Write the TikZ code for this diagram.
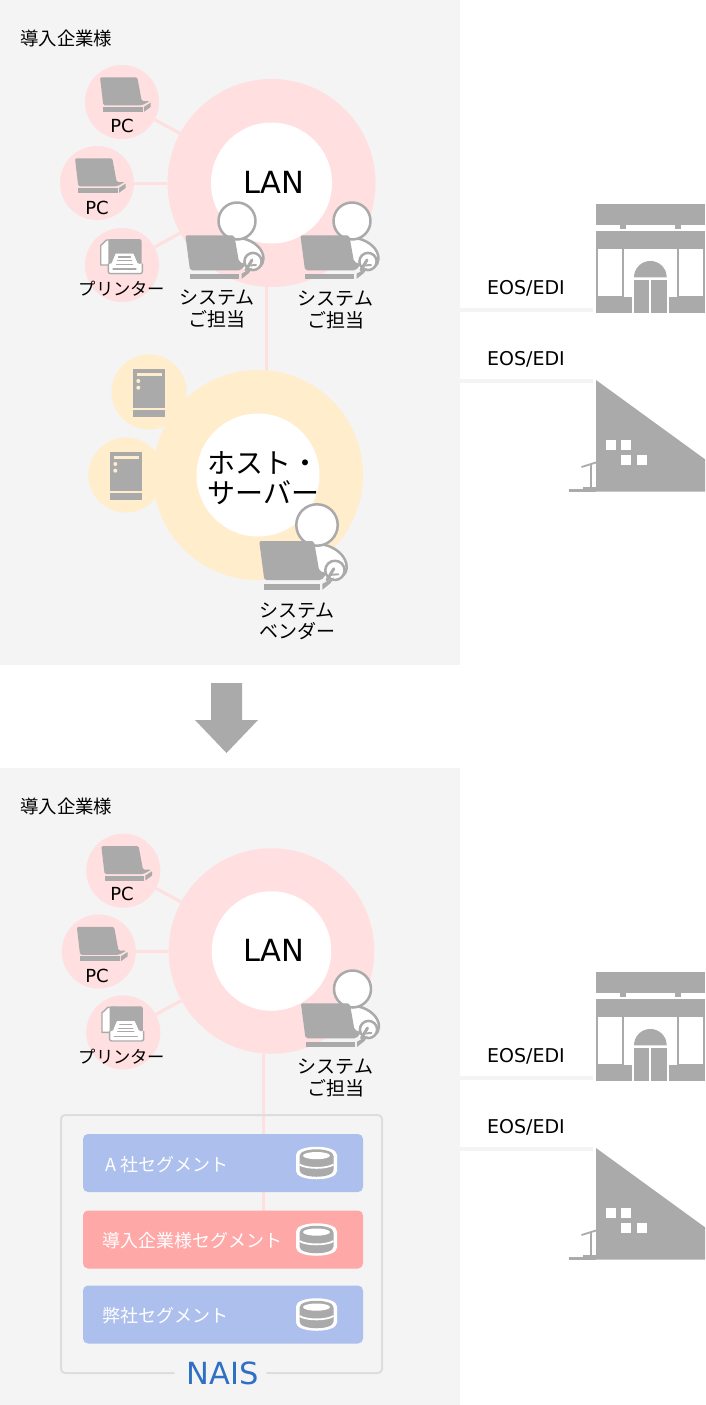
\documentclass[tikz,border=0pt]{standalone}
\usepackage{fontspec}
\setmainfont{DejaVu Sans}
\newfontfamily\jpfont{Noto Sans CJK JP}
\definecolor{panelgray}{HTML}{F4F4F4}
\definecolor{icongray}{HTML}{AAAAAA}
\definecolor{lanpink}{HTML}{FFDFDF}
\definecolor{hostcream}{HTML}{FFEDCC}
\definecolor{segblue}{HTML}{ADBFEC}
\definecolor{segred}{HTML}{FFA8A8}
\definecolor{framegray}{HTML}{DDDDDD}
\definecolor{naisblue}{HTML}{2F6FC4}
\tikzset{
	ring/.style={circle,inner sep=0pt,minimum size=#1},
	link/.style={line width=3pt,lanpink,line cap=butt},
	eosline/.style={line width=4pt,panelgray,line cap=butt},
	jp/.style={font=\jpfont\fontsize{18}{22}\selectfont,align=center,inner sep=0pt},
	jplabel/.style={font=\jpfont\fontsize{19}{21.5}\selectfont,align=center,inner sep=0pt},
	jpsmall/.style={font=\jpfont\fontsize{17.3}{20}\selectfont,inner sep=0pt},
	en/.style={font=\fontsize{#1}{#1}\selectfont,inner sep=0pt},
	segbox/.style={fill=#1,rounded corners=5pt,minimum width=280pt,minimum height=58pt,inner sep=0pt},
	pcicon/.pic={
		\fill[icongray,rounded corners=1.5pt] (-22,-24.7)--(15.3,-24.7)--(19.7,-1)--(28,-1)--(20,3.3)--(-18.7,3.3)--cycle;
		\fill[icongray] (-18.7,4.9) rectangle (20.7,9.8);
		\fill[icongray] (22,4.9)--(28.7,0.6)--(28.7,4.9)--(22,9.8)--cycle;
	},
	printericon/.pic={
		\draw[icongray,line width=1.4pt,fill=white] (-21.3,0)--(-21.3,-19.5)--(-15.5,-25)--(-8,-25)--(-8,0)--cycle;
		\fill[icongray,rounded corners=1.5pt] (-13.7,-26) rectangle (19.5,3);
		\fill[white] (-6.3,-11.7)--(11.3,-11.7)--(16.3,0)--(-11,0)--cycle;
		\fill[white,rounded corners=2pt] (-13.7,-1.7) rectangle (20.3,9.3);
		\draw[icongray,line width=1.4pt,rounded corners=2pt] (-13.7,-1)--(-13.7,8.6)--(20.3,8.6)--(20.3,-1);
		\draw[icongray,line width=1.2pt] (-12.5,-1.5)--(-6.8,-12.2)--(11.8,-12.2)--(18,-1.5);
		\foreach \ty/\tl in {-8/-3.5,-4.3/-4.5,-0.6/-5.5}
			\draw[icongray,line width=1.2pt] (\tl,\ty)--(-\tl+5,\ty);
		\draw[icongray,line width=1.2pt] (-9,4)--(14,4);
	},
	servericon/.pic={
		\fill[icongray] (-15.7,-22.7) rectangle (16,15.7);
		\fill[icongray] (-15.7,18) rectangle (16,24.7);
		\fill[hostcream] (-12.3,-19.3) rectangle (12.7,-16);
		\fill[hostcream] (-10.7,-11) circle (2);
		\fill[hostcream] (-10.7,-4.3) circle (2);
	},
	staffer/.pic={
		\fill[white] (-3,14)--(6.3,17.6) .. controls (17,20) and (26.5,28) .. (26.5,37.6) .. controls (26.5,43) and (22,47) .. (15,47)--(2,48)--cycle;
		\draw[icongray,line width=2.5pt] (6.3,17.6) .. controls (17,20) and (26.5,28) .. (26.5,37.6) .. controls (26.5,41) and (25,44) .. (22,46);
		\draw[icongray,line width=2.5pt,fill=white] (0,0) circle (18.5);
		\draw[icongray,line width=2.5pt,fill=white] (16,40.5) circle (8.6);
		\fill[icongray,rounded corners=2pt] (-51.6,14.3)--(-2.7,14.3)--(2,41)--(9,43)--(4,49.3)--(-47,49.3)--cycle;
		\fill[icongray] (-47,52.6) rectangle (2.3,58.3);
		\fill[icongray] (4.7,52.6)--(15.3,46.8)--(12,52)--(4.7,57.8)--cycle;
		\draw[icongray,line width=3pt] (9,49)--(15,39);
		\draw[icongray,line width=2pt] (12,44.5)--(19,44);
	},
	shopicon/.pic={
		\fill[icongray] (0,0) rectangle (109,21);
		\fill[icongray] (24,21) rectangle (30,25.3);
		\fill[icongray] (79,21) rectangle (84.7,25.3);
		\fill[icongray] (0,26.7) rectangle (109,108.7);
		\fill[white] (2,45.3) rectangle (26.3,92);
		\fill[white] (28,45.3) rectangle (81.3,93.3);
		\fill[white] (83,45.3) rectangle (107,92);
		\fill[white] (35.7,93) rectangle (73.3,108.7);
		\fill[icongray] (38,76) rectangle (53,108.7);
		\fill[icongray] (55,76) rectangle (70.7,108.7);
		\fill[icongray] (38,73.3) arc[start angle=180,end angle=360,radius=16.35]--cycle;
	},
	houseicon/.pic={
		\fill[icongray] (0,0)--(109,79.3)--(109,111.7)--(0,111.7)--cycle;
		\foreach \wx/\wy in {10/60,25.3/60,25.3/75.3,40.7/75.3}
			\fill[white] (\wx,\wy) rectangle ++(10,10);
		\fill[icongray] (-27,109) rectangle (0,111.7);
		\fill[icongray] (-13.5,106.5) rectangle (0,109);
		\draw[icongray,line width=1.8pt,line cap=butt] (-14.5,87)--(0,82.5);
		\draw[icongray,line width=1.8pt,line cap=butt] (-5,84.5)--(-5,107);
	},
	dbicon/.pic={
		\fill[white] (-20.5,-8) .. controls (-20.5,-19) and (20.5,-19) .. (20.5,-8)--(20.5,8) .. controls (20.5,19) and (-20.5,19) .. (-20.5,8)--cycle;
		\fill[icongray] (-17,-7) .. controls (-17,-16) and (17,-16) .. (17,-7)--(17,7) .. controls (17,16) and (-17,16) .. (-17,7)--cycle;
		\fill[white] (0,-7.4) ellipse (13.5 and 3.6);
		\draw[white,line width=1.8pt,line cap=butt] (-17,1.5) .. controls (-10,6) and (10,6) .. (17,1.5);
	},
}
\begin{document}
\begin{tikzpicture}[>=stealth,line join=round,line cap=round,x=1pt,y=-1pt]
	\useasboundingbox (0,0) rectangle (705,1405);
	\fill[panelgray] (0,0) rectangle (460,665);
	\fill[panelgray] (0,768) rectangle (460,1405);
	\fill[icongray] (211,683)--(242,683)--(242,720)--(258,720)--(226.5,753)--(195,720)--(211,720)--cycle;
	\foreach \dy/\s in {0/a,768/b}{
		\node[jp,font=\jpfont\fontsize{18.4}{22}\selectfont,anchor=west] (head\s) at (20,38+\dy) {導入企業様};
		\coordinate (eos\s1) at (460,309.5+\dy);
		\coordinate (shop\s) at (593,309.5+\dy);
		\coordinate (eos\s2) at (460,380.5+\dy);
		\coordinate (house\s) at (593,380.5+\dy);
		\draw[eosline] (eos\s1)--(shop\s);
		\draw[eosline] (eos\s2)--(house\s);
		\node[en=19] (eoslabel\s1) at (526,288+\dy) {EOS/EDI};
		\node[en=19] (eoslabel\s2) at (526,359+\dy) {EOS/EDI};
		\pic at (596,204+\dy) {shopicon};
		\pic at (596,380+\dy) {houseicon};
	}
	\node[ring=208pt,fill=lanpink] (lanA) at (271.5,183) {};
	\node[ring=74pt,fill=lanpink] (pcA) at (122,102) {};
	\node[ring=74pt,fill=lanpink] (pcB) at (97,183) {};
	\node[ring=74pt,fill=lanpink] (prnA) at (122,265) {};
	\draw[link] (pcA)--(lanA);
	\draw[link] (pcB)--(lanA);
	\draw[link] (prnA)--(lanA);
	\node[ring=121pt,fill=white] (lanAin) at (271.5,183) {};
	\node[en=30.5] (lanAtext) at (274,182) {LAN};
	\pic at (122,102) {pcicon};
	\pic at (97,183) {pcicon};
	\pic at (122,265) {printericon};
	\node[en=18] (pcAtext) at (122,126) {PC};
	\node[en=18] (pcBtext) at (97,208) {PC};
	\node[jpsmall] (prnAtext) at (122,288.5) {プリンター};
	\coordinate (linkA) at (266,287);
	\coordinate (linkB) at (266,372);
	\draw[link] (linkA)--(linkB);
	\pic at (237,221) {staffer};
	\pic at (352,221) {staffer};
	\node[jplabel] (staffA) at (217,309) {システム\\ご担当};
	\node[jplabel] (staffB) at (335.5,310) {システム\\ご担当};
	\node[ring=210pt,fill=hostcream] (host) at (258,475) {};
	\node[ring=75pt,fill=hostcream] (srvA) at (149,392) {};
	\node[ring=75pt,fill=hostcream] (srvB) at (126,475) {};
	\node[ring=123pt,fill=white] (hostin) at (258,475) {};
	\node[jp,font=\jpfont\fontsize{28}{30}\selectfont,align=left] (hosttext) at (263.5,478) {ホスト・\\サーバー};
	\pic at (149,392) {servericon};
	\pic at (126,475) {servericon};
	\pic[scale=1.12] at (317,525) {staffer};
	\node[jplabel] (vendor) at (297,621.5) {システム\\ベンダー};
	\coordinate (linkC) at (263,1054);
	\coordinate (linkE) at (263,1211);
	\draw[link] (linkC)--(linkE);
	\node[ring=205.5pt,fill=lanpink] (lanB) at (271.5,951) {};
	\node[ring=74pt,fill=lanpink] (pcC) at (123.3,870.7) {};
	\node[ring=74pt,fill=lanpink] (pcD) at (98.8,951.5) {};
	\node[ring=74pt,fill=lanpink] (prnB) at (123.3,1032.4) {};
	\draw[link] (pcC)--(lanB);
	\draw[link] (pcD)--(lanB);
	\draw[link] (prnB)--(lanB);
	\node[ring=119.5pt,fill=white] (lanBin) at (271.5,951) {};
	\node[en=30.5] (lanBtext) at (274,950) {LAN};
	\pic at (123.3,870.7) {pcicon};
	\pic at (98.8,951.5) {pcicon};
	\pic at (123.3,1032.4) {printericon};
	\node[en=18] (pcCtext) at (122,894) {PC};
	\node[en=18] (pcDtext) at (97,976) {PC};
	\node[jpsmall] (prnBtext) at (122,1056.5) {プリンター};
	\pic at (352.5,989) {staffer};
	\node[jplabel] (staffC) at (335.5,1078) {システム\\ご担当};
	\draw[framegray,line width=2pt,rounded corners=4pt] (174,1373)--(61,1373)--(61,1115)--(382,1115)--(382,1373)--(267,1373);
	\node[segbox=segblue] (segA) at (223,1163) {};
	\node[segbox=segred] (segB) at (223,1239.5) {};
	\node[segbox=segblue] (segC) at (223,1314.5) {};
	\node[jp,anchor=west,text=white] (segAtext) at (105,1165) {A 社セグメント};
	\node[jp,anchor=west,text=white] (segBtext) at (102,1240.5) {導入企業様セグメント};
	\node[jp,anchor=west,text=white] (segCtext) at (102,1315.5) {弊社セグメント};
	\pic at (316.5,1163) {dbicon};
	\pic at (316.5,1239.5) {dbicon};
	\pic at (316.5,1314.5) {dbicon};
	\node[en=30.5,text=naisblue] (nais) at (223,1373) {NAIS};
\end{tikzpicture}
\end{document}
